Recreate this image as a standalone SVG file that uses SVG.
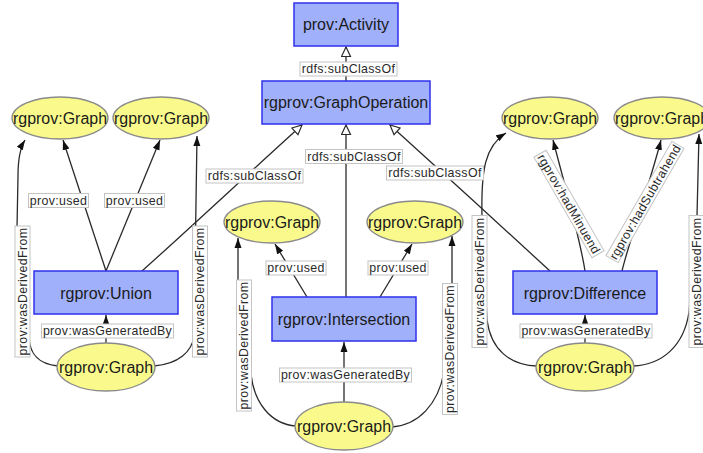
<svg xmlns="http://www.w3.org/2000/svg" width="703" height="453" viewBox="0 0 703 453">
<style>
.cls rect{fill:#a0b0fb;stroke:#3030ec;stroke-width:1.5}
.ind ellipse{fill:#fafa8c;stroke:#8a8a8a;stroke-width:1.3}
.nt{font-family:"Liberation Sans",Arial,sans-serif;font-size:16px;fill:#1a1a1a;text-anchor:middle}
.e{fill:none;stroke:#2a2a2a;stroke-width:1.3}
.f{marker-end:url(#af)}
.h{marker-end:url(#ah)}
.lb rect{fill:#ffffff;stroke:#c4c4c4;stroke-width:1}
.lb text{font-family:"Liberation Sans",Arial,sans-serif;font-size:12.4px;fill:#2a2a2a;text-anchor:middle;letter-spacing:0.35px}
</style>
<defs>
<marker id="af" markerUnits="userSpaceOnUse" markerWidth="11" markerHeight="8" refX="10" refY="4" orient="auto">
<path d="M0,0.5 L10,4 L0,7.5 z" fill="#111"/>
</marker>
<marker id="ah" markerUnits="userSpaceOnUse" markerWidth="12" markerHeight="12" refX="10.5" refY="5.5" orient="auto">
<path d="M1,1 L10.5,5.5 L1,10 z" fill="#fff" stroke="#2a2a2a" stroke-width="1.2"/>
</marker>
</defs>
<rect width="703" height="453" fill="#ffffff"/>

<g id="connectors">
<path class="e h" d="M346,81 L346,47"/>
<path class="e h" d="M142,271 C190,228 250,172 302,125"/>
<path class="e h" d="M346,297 L346,125"/>
<path class="e h" d="M550,271 C500,225 440,170 390,125"/>
<path class="e f" d="M106,271 L63,140"/>
<path class="e f" d="M106,271 L160,140"/>
<path class="e f" d="M106,343 L106,315"/>
<path class="e f" d="M58,366 C36,364 30,352 29,338 L17,228 L18,176 C18,158 20,148 25,140"/>
<path class="e f" d="M154,366 C178,364 192,352 194,336 L197,136"/>
<path class="e f" d="M307,297 L275,244"/>
<path class="e f" d="M380,297 L412,244"/>
<path class="e f" d="M344,402 L344,342"/>
<path class="e f" d="M296,426 C270,424 254,402 251,374 L238,282 L238,238"/>
<path class="e f" d="M392,427 C418,425 438,405 444,372 L452,285 L452,236"/>
<path class="e f" d="M585,271 C580,238 566,190 553,140"/>
<path class="e f" d="M622,271 C630,238 648,190 661,140"/>
<path class="e f" d="M585,343 L585,315"/>
<path class="e f" d="M537,366 C510,365 491,350 487,320 L482,216 C481,170 485,146 506,133"/>
<path class="e f" d="M633,366 C662,365 684,346 689,312 L697,216 L699,134"/>

<g class="lb">
<g transform="translate(348.5,69)"><rect x="-48.5" y="-7" width="97" height="14"/><text y="4.3">rdfs:subClassOf</text></g>
<g transform="translate(254.5,176)"><rect x="-48.5" y="-7" width="97" height="14"/><text y="4.3">rdfs:subClassOf</text></g>
<g transform="translate(354,156.5)"><rect x="-48.5" y="-7" width="97" height="14"/><text y="4.3">rdfs:subClassOf</text></g>
<g transform="translate(435,173)"><rect x="-48.5" y="-7" width="97" height="14"/><text y="4.3">rdfs:subClassOf</text></g>

<g transform="translate(58.5,200.5)"><rect x="-30" y="-7" width="60" height="14"/><text y="4.3">prov:used</text></g>
<g transform="translate(134.5,200.5)"><rect x="-30" y="-7" width="60" height="14"/><text y="4.3">prov:used</text></g>
<g transform="translate(107.5,331)"><rect x="-66" y="-7" width="132" height="14"/><text y="4.3">prov:wasGeneratedBy</text></g>
<g transform="translate(22.5,291.5) rotate(-90)"><rect x="-65.5" y="-7.5" width="131" height="15"/><text y="4.3">prov:wasDerivedFrom</text></g>
<g transform="translate(200,291.5) rotate(-90)"><rect x="-65.5" y="-7.5" width="131" height="15"/><text y="4.3">prov:wasDerivedFrom</text></g>

<g transform="translate(296,268)"><rect x="-30" y="-7" width="60" height="14"/><text y="4.3">prov:used</text></g>
<g transform="translate(398,268)"><rect x="-30" y="-7" width="60" height="14"/><text y="4.3">prov:used</text></g>
<g transform="translate(345.5,375)"><rect x="-66" y="-7" width="132" height="14"/><text y="4.3">prov:wasGeneratedBy</text></g>
<g transform="translate(244,345.5) rotate(-90)"><rect x="-65.5" y="-7.5" width="131" height="15"/><text y="4.3">prov:wasDerivedFrom</text></g>
<g transform="translate(450,349) rotate(-90)"><rect x="-65.5" y="-7.5" width="131" height="15"/><text y="4.3">prov:wasDerivedFrom</text></g>

<g transform="translate(569,204) rotate(60)"><rect x="-58" y="-7" width="116" height="14"/><text y="4.3">rgprov:hadMinuend</text></g>
<g transform="translate(645,202) rotate(-60)"><rect x="-66" y="-7" width="132" height="14"/><text y="4.3">rgprov:hadSubtrahend</text></g>
<g transform="translate(586,331)"><rect x="-66" y="-7" width="132" height="14"/><text y="4.3">prov:wasGeneratedBy</text></g>
<g transform="translate(479.5,281.5) rotate(-90)"><rect x="-66" y="-7.5" width="132" height="15"/><text y="4.3">prov:wasDerivedFrom</text></g>
<g transform="translate(696.5,281.5) rotate(-90)"><rect x="-66" y="-7.5" width="132" height="15"/><text y="4.3">prov:wasDerivedFrom</text></g>
</g>
</g>

<g id="activity" class="cls"><rect x="294" y="3" width="104" height="43"/><text class="nt" x="346" y="30">prov:Activity</text></g>
<g id="graphOperation" class="cls"><rect x="262" y="81" width="168" height="43"/><text class="nt" x="346" y="108">rgprov:GraphOperation</text></g>
<g id="union" class="cls"><rect x="34" y="271" width="144" height="43"/><text class="nt" x="106" y="298.5">rgprov:Union</text></g>
<g id="intersection" class="cls"><rect x="272" y="297" width="144" height="44"/><text class="nt" x="344" y="325">rgprov:Intersection</text></g>
<g id="difference" class="cls"><rect x="513" y="271" width="144" height="43"/><text class="nt" x="585" y="298.5">rgprov:Difference</text></g>

<g id="unionIn1" class="ind"><ellipse cx="60" cy="118" rx="48" ry="21"/><text class="nt" x="60" y="124" textLength="94" lengthAdjust="spacingAndGlyphs">rgprov:Graph</text></g>
<g id="unionIn2" class="ind"><ellipse cx="161" cy="118" rx="48" ry="21"/><text class="nt" x="161" y="124" textLength="94" lengthAdjust="spacingAndGlyphs">rgprov:Graph</text></g>
<g id="unionOut" class="ind"><ellipse cx="106" cy="367" rx="49" ry="24"/><text class="nt" x="106" y="373" textLength="94" lengthAdjust="spacingAndGlyphs">rgprov:Graph</text></g>
<g id="interIn1" class="ind"><ellipse cx="272" cy="222" rx="48" ry="21"/><text class="nt" x="272" y="228" textLength="94" lengthAdjust="spacingAndGlyphs">rgprov:Graph</text></g>
<g id="interIn2" class="ind"><ellipse cx="415" cy="222" rx="48" ry="21"/><text class="nt" x="415" y="228" textLength="94" lengthAdjust="spacingAndGlyphs">rgprov:Graph</text></g>
<g id="interOut" class="ind"><ellipse cx="344" cy="426" rx="49" ry="24"/><text class="nt" x="344" y="432" textLength="94" lengthAdjust="spacingAndGlyphs">rgprov:Graph</text></g>
<g id="minuend" class="ind"><ellipse cx="550" cy="118" rx="48" ry="21"/><text class="nt" x="550" y="124" textLength="94" lengthAdjust="spacingAndGlyphs">rgprov:Graph</text></g>
<g id="subtrahend" class="ind"><ellipse cx="662" cy="118" rx="48" ry="21"/><text class="nt" x="662" y="124" textLength="94" lengthAdjust="spacingAndGlyphs">rgprov:Graph</text></g>
<g id="diffOut" class="ind"><ellipse cx="585" cy="367" rx="49" ry="24"/><text class="nt" x="585" y="373" textLength="94" lengthAdjust="spacingAndGlyphs">rgprov:Graph</text></g>
</svg>
